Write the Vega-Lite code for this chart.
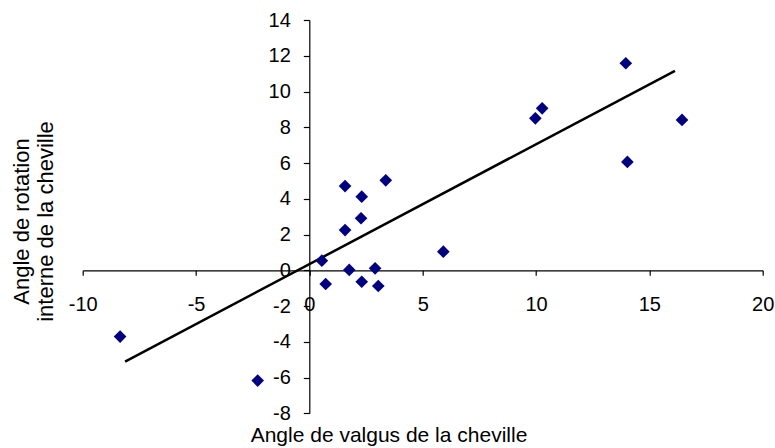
{
  "$schema": "https://vega.github.io/schema/vega-lite/v6.json",
  "width": 680,
  "height": 393.3,
  "autosize": "none",
  "padding": {"left": 82.7, "top": 20, "right": 12.3, "bottom": 34.7},
  "background": "white",
  "config": {
    "view": {"stroke": null},
    "font": "Liberation Sans"
  },
  "datasets": {
    "points": [
      {"x": 1.575, "y": 4.71},
      {"x": 2.31, "y": 4.12},
      {"x": 3.37, "y": 5.03},
      {"x": 2.28, "y": 2.91},
      {"x": 1.575, "y": 2.25},
      {"x": 0.55, "y": 0.54},
      {"x": 1.76, "y": 0.02},
      {"x": 2.9, "y": 0.11},
      {"x": 0.72, "y": -0.77},
      {"x": 2.31, "y": -0.64},
      {"x": 3.04, "y": -0.88},
      {"x": 5.91, "y": 1.04},
      {"x": -8.35, "y": -3.71},
      {"x": -2.28, "y": -6.17},
      {"x": 13.96, "y": 11.58},
      {"x": 10.27, "y": 9.06},
      {"x": 9.97, "y": 8.5},
      {"x": 16.44, "y": 8.41},
      {"x": 14.03, "y": 6.06}
    ],
    "fit": [
      {"x": -8.13, "y": -5.11},
      {"x": 16.13, "y": 11.16}
    ]
  },
  "encoding": {
    "x": {
      "field": "x", "type": "quantitative",
      "scale": {"domain": [-10, 20], "nice": false, "zero": false},
      "axis": {
        "orient": "bottom", "offset": -143,
        "values": [-10, -5, 0, 5, 10, 15, 20],
        "labelExpr": "'' + datum.value",
        "grid": false, "domainColor": "black", "domainWidth": 1.2,
        "tickColor": "black", "tickSize": 5, "tickWidth": 1.2,
        "labelColor": "black", "labelFontSize": 20, "labelPadding": 19,
        "labelFlush": false, "labelOverlap": false, "labelBound": false,
        "title": "Angle de valgus de la cheville",
        "titleFontSize": 21, "titleFontWeight": "normal", "titleColor": "black",
        "titleX": 305.8, "titleY": 170.7, "titleAlign": "center",
        "titleBaseline": "alphabetic", "titleAngle": 0
      }
    },
    "y": {
      "field": "y", "type": "quantitative",
      "scale": {"domain": [-8, 14], "nice": false, "zero": false},
      "axis": {
        "orient": "left", "offset": -226.6,
        "values": [-8, -6, -4, -2, 0, 2, 4, 6, 8, 10, 12, 14],
        "labelExpr": "'' + datum.value",
        "grid": false, "domainColor": "black", "domainWidth": 1.2,
        "tickColor": "black", "tickSize": 6, "tickWidth": 1.2,
        "labelColor": "black", "labelFontSize": 20, "labelPadding": 13,
        "labelFlush": false, "labelOverlap": false, "labelBound": false,
        "title": ["Angle de rotation", "interne de la cheville"],
        "titleFontSize": 22, "titleFontWeight": "normal", "titleColor": "black",
        "titleX": -281.3, "titleY": 201, "titleAlign": "center",
        "titleBaseline": "alphabetic", "titleAngle": 270, "titleLineHeight": 24
      }
    }
  },
  "layer": [
    {
      "data": {"name": "fit"},
      "mark": {"type": "line", "color": "black", "strokeWidth": 2.5}
    },
    {
      "data": {"name": "points"},
      "mark": {"type": "point", "shape": "diamond", "filled": true, "color": "#000080", "size": 160, "opacity": 1}
    },
    {
      "data": {"values": [{}]},
      "mark": {"type": "text", "align": "left", "baseline": "alphabetic", "fontSize": 23, "lineHeight": 28.4, "color": "#111111"},
      "encoding": {
        "x": {"datum": 11.5, "type": "quantitative"},
        "y": {"datum": 3.8, "type": "quantitative"},
        "text": {"value": ["y = 0,63x + 0,04", "r = 0,84"]}
      }
    }
  ]
}
